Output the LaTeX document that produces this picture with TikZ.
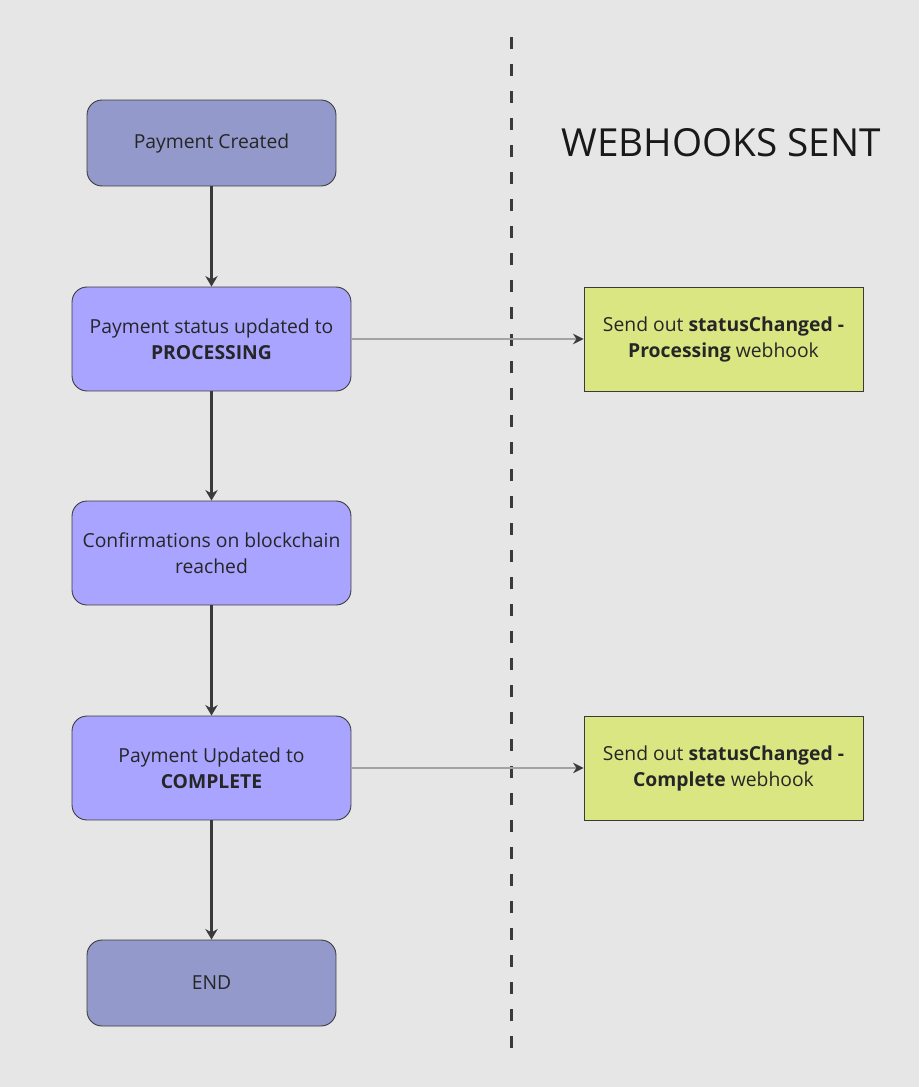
\documentclass[tikz,border=0pt]{standalone}
\usepackage{fontspec}
\setmainfont{Open Sans}
\usepackage{tikz}
\usetikzlibrary{positioning,arrows.meta}
\definecolor{bgGray}{HTML}{E6E6E6}
\definecolor{stepBlue}{HTML}{9499CC}
\definecolor{stepViolet}{HTML}{A9A4FF}
\definecolor{hookGreen}{HTML}{D9E682}
\definecolor{lineDark}{HTML}{3A3A3A}
\definecolor{lineGray}{HTML}{A3A3A3}
\tikzset{%
	state/.style={
		draw=lineDark,
		line width=0.5pt,
		rounded corners=0.3cm,
		align=center,
		font=\fontsize{11}{14.8}\selectfont,
		text=black!85
	},
	state-end/.style={ fill=stepBlue, minimum width=4.98cm, minimum height=1.72cm },
	state-mid/.style={ fill=stepViolet, minimum width=5.58cm, minimum height=2.08cm },
	webhook/.style={
		draw=lineDark,
		line width=0.5pt,
		fill=hookGreen,
		align=center,
		minimum width=5.58cm,
		minimum height=2.08cm,
		font=\fontsize{11}{14.8}\selectfont,
		text=black!85
	},
	flow/.style={ draw=lineDark, line width=1.5pt, -{Stealth[length=6pt,width=7pt]} },
	send/.style={ draw=lineGray, line width=1.1pt, -{Stealth[length=6pt,width=6pt,color=lineDark]} },
}

\begin{document}
\begin{tikzpicture}[x=0.02cm, y=-0.02cm]
\fill[bgGray] (0,0) rectangle (919,1087);
\useasboundingbox (0,0) rectangle (919,1087);

% states
\node[state, state-end] (created) at (211.5,143) {Payment Created};
\node[state, state-mid] (processing) at (211.5,339) {Payment status updated to\\\textbf{PROCESSING}};
\node[state, state-mid] (confirmed) at (211.5,553) {Confirmations on blockchain\\reached};
\node[state, state-mid] (complete) at (211.5,768) {Payment Updated to\\\textbf{COMPLETE}};
\node[state, state-end] (end) at (211.5,983) {END};

% webhooks
\node[webhook] (hook-processing) at (723.5,339) {Send out \textbf{statusChanged -}\\\textbf{Processing} webhook};
\node[webhook] (hook-complete) at (723.5,768) {Send out \textbf{statusChanged -}\\\textbf{Complete} webhook};

% title
\node[font=\fontsize{22}{26}\selectfont, text=black!90] (title) at (721,143) {WEBHOOKS SENT};

% divider
\coordinate (div-top) at (511,37);
\coordinate (div-bottom) at (511,1055);
\draw[lineDark, line width=1.7pt, dash pattern=on 0.24cm off 0.3cm] (div-top) -- (div-bottom);

% flow connections
\draw[flow] (created) -- (processing);
\draw[flow] (processing) -- (confirmed);
\draw[flow] (confirmed) -- (complete);
\draw[flow] (complete) -- (end);

% webhook connections
\draw[send] (processing) -- (hook-processing);
\draw[send] (complete) -- (hook-complete);

\end{tikzpicture}
\end{document}
